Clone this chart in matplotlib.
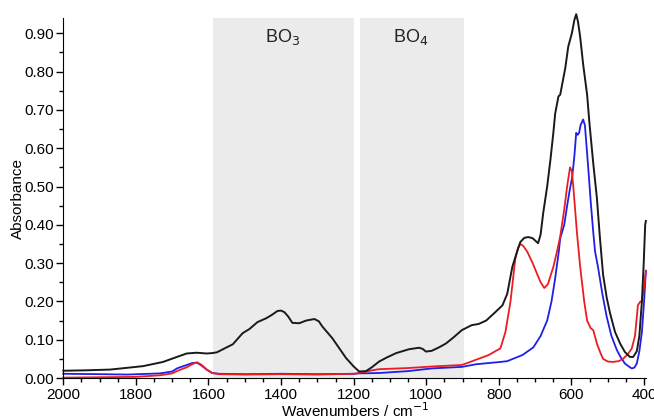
import matplotlib
matplotlib.use("Agg")
import matplotlib.pyplot as plt
from matplotlib.ticker import MultipleLocator, FormatStrFormatter

plt.rcParams['font.family'] = ['Liberation Sans', 'DejaVu Sans']

black_wn = [2000, 1940, 1871, 1820, 1780, 1725, 1687, 1660, 1633, 1605, 1590, 1577, 1550, 1533,
            1506, 1487, 1465, 1441, 1425, 1410, 1400, 1391, 1380, 1369, 1350, 1331, 1308, 1296,
            1286, 1259, 1240, 1221, 1200, 1185, 1166, 1150, 1130, 1110, 1083, 1048, 1020, 1010,
            1001, 985, 965, 946, 925, 902, 875, 856, 835, 812, 790, 777, 763, 750, 741, 730, 719,
            707, 699, 692, 685, 678, 667, 658, 650, 645, 636, 631, 627, 617, 609, 599, 592, 587,
            582, 576, 568, 557, 550, 540, 530, 522, 513, 503, 494, 480, 466, 453, 439, 430, 420,
            413, 406, 401, 397, 395]
black_abs = [0.019, 0.020, 0.022, 0.027, 0.031, 0.042, 0.055, 0.064, 0.066, 0.064, 0.065, 0.067,
             0.080, 0.088, 0.117, 0.128, 0.146, 0.156, 0.165, 0.175, 0.176, 0.172, 0.160, 0.144,
             0.143, 0.150, 0.154, 0.148, 0.134, 0.104, 0.078, 0.052, 0.030, 0.017, 0.018, 0.028,
             0.043, 0.053, 0.065, 0.075, 0.079, 0.076, 0.069, 0.071, 0.080, 0.090, 0.106, 0.125,
             0.138, 0.141, 0.150, 0.170, 0.190, 0.220, 0.290, 0.330, 0.355, 0.366, 0.368, 0.365,
             0.358, 0.352, 0.375, 0.43, 0.50, 0.57, 0.64, 0.69, 0.735, 0.74, 0.76, 0.81, 0.865,
             0.90, 0.935, 0.95, 0.93, 0.89, 0.82, 0.74, 0.66, 0.56, 0.47, 0.37, 0.27, 0.21, 0.17,
             0.12, 0.09, 0.068, 0.055, 0.055, 0.07, 0.11, 0.20, 0.30, 0.40, 0.41]

red_wn = [2000, 1900, 1800, 1734, 1700, 1687, 1660, 1645, 1632, 1620, 1605, 1590, 1570, 1500,
          1400, 1300, 1200, 1185, 1150, 1130, 1050, 985, 902, 862, 828, 806, 796, 782, 768, 755,
          747, 741, 733, 722, 707, 694, 685, 675, 665, 650, 640, 631, 620, 612, 604, 599, 595,
          585, 576, 565, 557, 547, 540, 530, 520, 513, 500, 486, 470, 458, 445, 434, 425, 417,
          410, 406, 401, 395]
red_abs = [0.001, 0.002, 0.003, 0.007, 0.012, 0.018, 0.028, 0.036, 0.041, 0.035, 0.022, 0.013,
           0.010, 0.009, 0.010, 0.009, 0.011, 0.013, 0.020, 0.023, 0.026, 0.030, 0.034, 0.048,
           0.060, 0.072, 0.077, 0.12, 0.20, 0.31, 0.34, 0.35, 0.345, 0.33, 0.30, 0.27, 0.25,
           0.235, 0.245, 0.29, 0.33, 0.37, 0.44, 0.50, 0.55, 0.54, 0.50, 0.38, 0.29, 0.20, 0.15,
           0.13, 0.125, 0.09, 0.065, 0.05, 0.043, 0.042, 0.044, 0.05, 0.062, 0.077, 0.11, 0.19,
           0.20, 0.20, 0.23, 0.28]

blue_wn = [2000, 1900, 1824, 1734, 1700, 1687, 1660, 1645, 1632, 1620, 1605, 1590, 1570, 1500,
           1400, 1300, 1200, 1185, 1130, 1050, 985, 902, 862, 795, 777, 735, 705, 685, 667, 655,
           645, 635, 631, 620, 612, 605, 598, 592, 587, 583, 579, 575, 568, 563, 554, 547, 540,
           535, 527, 515, 503, 490, 475, 465, 453, 442, 434, 427, 420, 413, 406, 400, 395]
blue_abs = [0.011, 0.010, 0.009, 0.012, 0.017, 0.025, 0.034, 0.039, 0.040, 0.033, 0.022, 0.013,
            0.011, 0.010, 0.011, 0.010, 0.011, 0.012, 0.013, 0.018, 0.025, 0.029, 0.036, 0.042,
            0.044, 0.060, 0.080, 0.11, 0.15, 0.20, 0.26, 0.33, 0.365, 0.40, 0.45, 0.49, 0.525,
            0.58, 0.64, 0.635, 0.64, 0.66, 0.675, 0.66, 0.55, 0.46, 0.38, 0.33, 0.29, 0.22, 0.16,
            0.11, 0.073, 0.055, 0.038, 0.030, 0.025, 0.027, 0.038, 0.07, 0.12, 0.20, 0.28]

regions = [(1588, 1200, 'BO$_3$', 1397), (1182, 897, 'BO$_4$', 1042)]

fig = plt.figure(figsize=(6.54, 4.19), dpi=100)
ax = fig.add_axes([63.3/654, 1-378/419, (645.9-63.3)/654, (378-18)/419])

for left, right, label, xc in regions:
    ax.axvspan(right, left, ymin=0, ymax=1, color='#ebebeb', lw=0, zorder=0)
    ax.text(xc, 0.878, label, ha='center', va='baseline', fontsize=13, color='#222222')

ax.plot(black_wn, black_abs, color='#1a1a1a', lw=1.4, clip_on=False, zorder=3)
ax.plot(blue_wn, blue_abs, color='#1f1fe8', lw=1.3, clip_on=False, zorder=2)
ax.plot(red_wn, red_abs, color='#ec1c24', lw=1.3, clip_on=False, zorder=2)

ax.set_xlim(2000, 395)
ax.set_ylim(0, 0.94)
ax.xaxis.set_major_locator(MultipleLocator(200))
ax.xaxis.set_minor_locator(MultipleLocator(50))
ax.yaxis.set_major_locator(MultipleLocator(0.1))
ax.yaxis.set_minor_locator(MultipleLocator(0.05))
ax.yaxis.set_major_formatter(FormatStrFormatter('%.2f'))
ax.xaxis.set_major_formatter(FormatStrFormatter('%d'))
for s in ['top', 'right']:
    ax.spines[s].set_visible(False)
ax.tick_params(axis='both', which='major', length=5, width=1, labelsize=11)
ax.tick_params(axis='x', which='major', pad=2)
ax.tick_params(axis='y', which='major', pad=2)
ax.tick_params(axis='both', which='minor', length=3, width=1)

fig.text(355/654, (419-417)/419, 'Wavenumbers / cm$^{-1}$', ha='center', va='baseline',
         fontsize=11)
fig.text(18/654, (1 - 198/419), 'Absorbance', rotation=90, ha='center', va='center',
         fontsize=11)

fig.savefig('out.png', dpi=100)
